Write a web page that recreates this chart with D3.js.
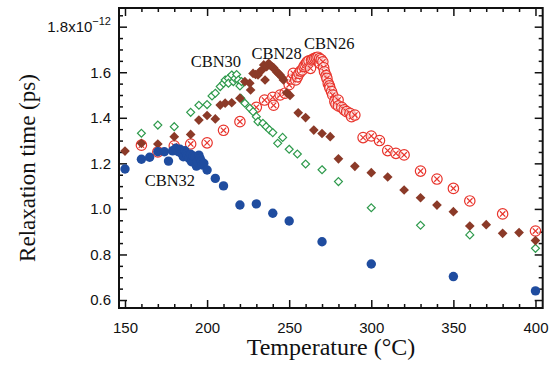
<!DOCTYPE html>
<html>
<head>
<meta charset="utf-8">
<script src="https://cdn.jsdelivr.net/npm/d3@7"></script>
<style>
  body { margin: 0; background: #fff; }
  .tick text { font-family: "Liberation Sans", Arial, sans-serif; font-size: 15px; fill: #111; }
  .title { font-family: "Liberation Serif", "Times New Roman", serif; fill: #111; }
</style>
</head>
<body>
<div id="chart"></div>
<script>
// [temperature, relaxation time (x1e-12 s)]
const cbn32 = [[150,1.175],[160,1.218],[165,1.227],[170,1.251],[174,1.251],[176.5,1.21],[179,1.255],
  [181,1.266],[182.5,1.251],[183.5,1.262],[184.5,1.244],[185.5,1.229],[186.5,1.255],[187.5,1.244],
  [188,1.232],[189,1.222],[190,1.24],[190.5,1.207],[191.5,1.232],[192.5,1.229],[193.5,1.188],
  [194,1.207],[195,1.236],[195.7,1.222],[196.5,1.21],[197,1.193],[198,1.2],[200,1.171],[205,1.134],
  [210,1.101],[220,1.017],[230,1.022],[240,0.981],[250,0.947],[270,0.856],[300,0.758],[350,0.703],[400,0.64]];

const cbn30 = [[160,1.332],[170,1.368],[180,1.361],[190,1.424],[195,1.455],[200,1.458],[203,1.496],
  [205,1.508],[208,1.537],[210,1.552],[211,1.566],[213,1.573],[213,1.552],[215,1.588],[216,1.559],
  [217,1.573],[218,1.59],[219,1.566],[220,1.54],[221,1.559],[220.5,1.486],[223,1.464],[226,1.442],
  [228,1.427],[230,1.405],[231,1.383],[234,1.376],[236,1.361],[238,1.347],[240,1.335],[243,1.288],
  [246,1.314],[250,1.262],[255,1.241],[260,1.197],[270,1.172],[280,1.12],[300,1.005],[330,0.928],
  [360,0.886],[400,0.827]];

const cbn28 = [[150,1.254],[160,1.288],[170,1.285],[180,1.317],[190,1.327],[195,1.39],[200,1.41],
  [205,1.395],[208,1.456],[211,1.464],[215,1.466],[220,1.486],[223,1.559],[226,1.552],[226.5,1.522],
  [228,1.595],[229.5,1.59],[231,1.588],[232,1.602],[233.5,1.61],[234.5,1.632],[235.3,1.566],
  [236.3,1.624],[237.5,1.639],[238.5,1.63],[239.5,1.624],[240.5,1.62],[241.5,1.61],[242.5,1.6],
  [243.5,1.595],[244.5,1.588],[245.5,1.578],[246.5,1.566],[248.5,1.51],[250.5,1.498],[255.5,1.422],
  [260,1.401],[265,1.346],[270,1.331],[275,1.317],[280,1.22],[290,1.187],[300,1.159],[310,1.14],
  [320,1.083],[330,1.049],[340,1.017],[350,0.988],[360,0.925],[370,0.931],[380,0.893],[390,0.896],[400,0.861]];

const cbn26 = [[160,1.28],[170,1.25],[180,1.277],[190,1.285],[200,1.29],[210,1.345],[220,1.383],
  [230,1.446],[235,1.478],[240,1.49],[240.5,1.455],[244.5,1.5],[247.5,1.508],[250,1.545],[251.5,1.57],
  [252.5,1.595],[254,1.566],[255,1.58],[256,1.595],[257,1.605],[258,1.61],[259,1.625],[259.7,1.632],
  [260.5,1.64],[261,1.646],[262,1.65],[263,1.617],[263.7,1.654],[264.5,1.658],[265.5,1.661],
  [266.5,1.664],[267.5,1.666],[268.5,1.66],[268.8,1.639],[269.5,1.655],[270.5,1.646],[271,1.62],
  [271.5,1.602],[272.5,1.585],[273,1.573],[273.8,1.551],[274.5,1.54],[274.8,1.53],[275.8,1.515],
  [276.5,1.5],[277.8,1.471],[278.5,1.46],[279.8,1.478],[280,1.452],[282,1.446],[283.5,1.435],
  [285,1.427],[287,1.42],[288,1.405],[290,1.412],[295,1.313],[300,1.32],[305,1.3],[310,1.256],
  [315,1.244],[320,1.237],[330,1.166],[340,1.131],[350,1.09],[360,1.035],[380,0.978],[400,0.903]];

const xTicks = [150, 200, 250, 300, 350, 400];
const yTicks = [0.6, 0.8, 1.0, 1.2, 1.4, 1.6, 1.8];
const seriesLabels = [
  { name: 'CBN32', x: 162, y: 1.10 },
  { name: 'CBN30', x: 190, y: 1.625 },
  { name: 'CBN28', x: 227, y: 1.66 },
  { name: 'CBN26', x: 259, y: 1.70 }
];

const width = 553, height = 365;
const svg = d3.select('#chart').append('svg')
  .attr('width', width).attr('height', height);

const x = d3.scaleLinear().domain([146.35, 404.4]).range([119, 542.7]);
const y = d3.scaleLinear().domain([0.565, 1.882]).range([308, 8]);
const [x0, x1] = x.range();
const [y0, y1] = y.range();

const minorX = d3.range(150, 401, 10).filter(v => v % 50 !== 0);
const minorY = d3.range(0.65, 1.86, 0.05).filter(v => Math.round(v * 100) % 20 !== 0);

function axisStyle(g) {
  g.select('.domain').remove();
  g.selectAll('line').attr('stroke', '#111').attr('stroke-width', 1.5);
}

// bottom / top
svg.append('g').attr('transform', `translate(0,${y0})`)
  .call(d3.axisBottom(x).tickValues(xTicks).tickSize(-8).tickPadding(14).tickFormat(d3.format('d')))
  .call(axisStyle);
svg.append('g').attr('transform', `translate(0,${y0})`)
  .call(d3.axisBottom(x).tickValues(minorX).tickSize(-4).tickFormat(''))
  .call(axisStyle);
svg.append('g').attr('transform', `translate(0,${y1})`)
  .call(d3.axisTop(x).tickValues(xTicks).tickSize(-8).tickFormat(''))
  .call(axisStyle);
svg.append('g').attr('transform', `translate(0,${y1})`)
  .call(d3.axisTop(x).tickValues(minorX).tickSize(-4).tickFormat(''))
  .call(axisStyle);

// left / right
const yLeft = svg.append('g').attr('transform', `translate(${x0},0)`)
  .call(d3.axisLeft(y).tickValues(yTicks).tickSize(-8).tickPadding(8).tickFormat(d3.format('.1f')))
  .call(axisStyle);
svg.append('g').attr('transform', `translate(${x0},0)`)
  .call(d3.axisLeft(y).tickValues(minorY).tickSize(-4).tickFormat(''))
  .call(axisStyle);
svg.append('g').attr('transform', `translate(${x1},0)`)
  .call(d3.axisRight(y).tickValues(yTicks).tickSize(-8).tickFormat(''))
  .call(axisStyle);
svg.append('g').attr('transform', `translate(${x1},0)`)
  .call(d3.axisRight(y).tickValues(minorY).tickSize(-4).tickFormat(''))
  .call(axisStyle);

// 1.8x10^-12 label
yLeft.selectAll('.tick').filter(d => d === 1.8).select('text')
  .text(null)
  .call(t => {
    t.append('tspan').text('1.8x10');
    t.append('tspan').attr('dy', -7).attr('font-size', 11).text('\u221212');
  });

// frame
svg.append('rect')
  .attr('x', x0).attr('y', y1).attr('width', x1 - x0).attr('height', y0 - y1)
  .attr('fill', 'none').attr('stroke', '#111').attr('stroke-width', 2);

const plot = svg.append('g');

// CBN26: open circle with cross
const red = '#e8342c';
const g26 = plot.append('g').selectAll('g').data(cbn26).enter().append('g')
  .attr('transform', d => `translate(${x(d[0])},${y(d[1])})`)
  .attr('stroke', red).attr('fill', 'none').attr('stroke-width', 1.2);
g26.append('circle').attr('r', 5.2).attr('fill', '#fff').attr('fill-opacity', 0.6);
g26.append('path').attr('d', 'M-2.7,-2.7L2.7,2.7M-2.7,2.7L2.7,-2.7');

// CBN30: open diamond
plot.append('g').selectAll('path').data(cbn30).enter().append('path')
  .attr('d', d3.symbol(d3.symbolDiamond2, 40))
  .attr('transform', d => `translate(${x(d[0])},${y(d[1])})`)
  .attr('fill', '#fff').attr('stroke', '#2e9a4c').attr('stroke-width', 1.2);

// CBN28: filled diamond
plot.append('g').selectAll('path').data(cbn28).enter().append('path')
  .attr('d', d3.symbol(d3.symbolDiamond2, 60))
  .attr('transform', d => `translate(${x(d[0])},${y(d[1])})`)
  .attr('fill', '#8b3a28');

// CBN32: filled circle
plot.append('g').selectAll('circle').data(cbn32).enter().append('circle')
  .attr('cx', d => x(d[0])).attr('cy', d => y(d[1])).attr('r', 4.7)
  .attr('fill', '#1f4c9f');

// series labels
svg.append('g').selectAll('text').data(seriesLabels).enter().append('text')
  .attr('class', 'title')
  .attr('x', d => x(d.x)).attr('y', d => y(d.y))
  .attr('font-size', 16.5)
  .text(d => d.name);

// axis titles
svg.append('text').attr('class', 'title')
  .attr('x', 331).attr('y', 355)
  .attr('text-anchor', 'middle').attr('font-size', 24)
  .text('Temperature (\u00B0C)');
svg.append('text').attr('class', 'title')
  .attr('transform', `translate(35,${(y0 + y1) / 2 + 10}) rotate(-90)`)
  .attr('text-anchor', 'middle').attr('font-size', 23)
  .text('Relaxation time (ps)');
</script>
</body>
</html>
